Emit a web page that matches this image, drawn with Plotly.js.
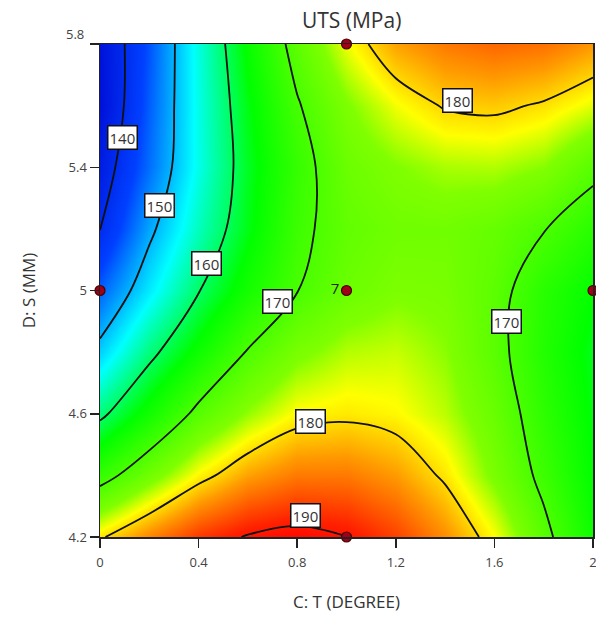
<!DOCTYPE html>
<html>
<head>
<meta charset="utf-8">
<script src="https://cdn.plot.ly/plotly-3.0.1.min.js"></script>
<style>html,body{margin:0;padding:0;background:#fff;}#chart{width:596px;height:618px;}</style>
</head>
<body>
<div id="chart"></div>
<script>
// C: T (DEGREE) grid
const tValues = [0, 0.2, 0.4, 0.6, 0.8, 1.0, 1.2, 1.4, 1.6, 1.8, 2.0];
// D: S (MM) grid
const sValues = [4.2, 4.4, 4.6, 4.8, 5.0, 5.2, 5.4, 5.6, 5.8];
// UTS (MPa) estimated from the contour picture, one row per S value
const uts42 = [179.5, 184.0, 188.0, 190.3, 191.2, 190.1, 187.5, 183.5, 178.4, 171.3, 164.5];
const uts44 = [168.0, 173.4, 178.7, 182.5, 184.5, 184.5, 182.8, 179.4, 174.3, 168.8, 163.5];
const uts46 = [159.0, 165.0, 171.2, 175.5, 178.6, 179.3, 178.6, 176.5, 172.8, 167.5, 163.0];
const uts48 = [151.3, 158.8, 164.7, 170.3, 174.2, 176.3, 176.8, 175.2, 171.5, 166.5, 162.5];
const uts50 = [145.4, 152.8, 159.8, 165.3, 169.9, 173.0, 174.5, 174.2, 171.7, 167.0, 163.8];
const uts52 = [139.9, 149.0, 156.4, 162.8, 168.8, 172.2, 173.4, 173.5, 172.5, 170.2, 167.0];
const uts54 = [137.3, 146.0, 154.7, 162.2, 168.2, 173.0, 174.8, 176.0, 176.2, 175.0, 171.3];
const uts56 = [135.2, 145.1, 154.8, 162.9, 169.6, 174.6, 178.0, 180.3, 180.7, 179.6, 177.5];
const uts58 = [135.5, 144.5, 155.1, 164.2, 171.8, 178.0, 182.5, 184.5, 185.5, 185.0, 183.0];
// contour levels
const levels = [140, 150, 160, 170, 180, 190];
// design points
const designT = [1, 0, 1, 2, 1];
const designS = [5.8, 5.0, 5.0, 5.0, 4.2];
const designLabels = ['', '', '7', '', ''];
// tick labels
const xTicks = [0, 0.4, 0.8, 1.2, 1.6, 2];
const yTicks = [4.2, 4.6, 5, 5.4, 5.8];

const z = [uts42, uts44, uts46, uts48, uts50, uts52, uts54, uts56, uts58];

const contour = {
  type: 'contour',
  x: tValues, y: sValues, z: z,
  zauto: false, zmin: 135, zmax: 192,
  colorscale: [
    [0, '#0010d8'], [0.15, '#0040ff'], [0.33, '#00ffff'], [0.5, '#00ff00'],
    [0.7, '#80ff00'], [0.76, '#ffff00'], [0.84, '#ff9900'], [0.95, '#ff2000'], [1, '#ff0000']
  ],
  showscale: false,
  contours: {start: levels[0], end: levels[levels.length - 1], size: levels[1] - levels[0], coloring: 'heatmap', showlabels: false},
  line: {color: '#111', width: 1.8, smoothing: 1},
  hoverinfo: 'skip'
};

const pts = {
  type: 'scatter', mode: 'markers+text',
  x: designT, y: designS, text: designLabels,
  textposition: 'middle left',
  textfont: {family: 'Open Sans, sans-serif', size: 15, color: '#222'},
  marker: {color: '#a00018', size: 10, line: {color: '#4a0000', width: 1.2}},
  cliponaxis: false, hoverinfo: 'skip'
};

// label placement for contour values
const labelPos = [
  [0.093, 5.498], [0.243, 5.277], [0.434, 5.089], [0.722, 4.963],
  [0.852, 4.576], [0.832, 4.271], [1.651, 4.898], [1.452, 5.618]
];
const labelLevel = [140, 150, 160, 170, 180, 190, 170, 180];
const annotations = labelPos.map((p, i) => ({
  x: p[0], y: p[1], xref: 'x', yref: 'y', showarrow: false,
  text: String(labelLevel[i]),
  font: {family: 'Open Sans, sans-serif', size: 15, color: '#333'},
  bgcolor: '#ffffff', bordercolor: '#111', borderwidth: 1.5, borderpad: 1
}));
// top y tick label sits above the frame in the reference
annotations.push({
  x: 0, y: 1, xref: 'paper', yref: 'paper', xanchor: 'right', yanchor: 'middle',
  xshift: -14, yshift: 10, showarrow: false, text: String(yTicks[yTicks.length - 1]),
  font: {family: 'Open Sans, sans-serif', size: 13, color: '#444'}
});

const layout = {
  width: 596, height: 618,
  margin: {l: 100, r: 3, t: 44, b: 81},
  paper_bgcolor: '#fff', plot_bgcolor: '#fff',
  showlegend: false,
  font: {family: 'Open Sans, sans-serif', color: '#404040'},
  title: {text: 'UTS (MPa)', font: {size: 21, color: '#333'}, x: 0.59, xanchor: 'center', y: 0.967, yanchor: 'middle'},
  xaxis: {
    range: [0, 2], tickvals: xTicks, ticktext: xTicks.map(String),
    ticks: 'outside', ticklen: 9, tickwidth: 1.5, tickcolor: '#222',
    ticklabeloverflow: 'allow', ticklabelstandoff: 4,
    showline: true, linecolor: '#222', linewidth: 1.5, mirror: true,
    showgrid: false, zeroline: false,
    tickfont: {size: 13, color: '#444'},
    title: {text: 'C: T (DEGREE)', font: {size: 17, color: '#333'}, standoff: 26}
  },
  yaxis: {
    range: [4.2, 5.8], tickvals: yTicks, ticktext: yTicks.map((v, i) => i === yTicks.length - 1 ? '' : String(v)),
    ticks: 'outside', ticklen: 9, tickwidth: 1.5, tickcolor: '#222',
    showline: true, linecolor: '#222', linewidth: 1.5, mirror: true,
    showgrid: false, zeroline: false,
    tickfont: {size: 13, color: '#444'},
    title: {text: 'D: S (MM)', font: {size: 17, color: '#333'}, standoff: 28}
  },
  annotations: annotations
};

Plotly.newPlot('chart', [contour, pts], layout, {displayModeBar: false, staticPlot: true});
</script>
</body>
</html>
